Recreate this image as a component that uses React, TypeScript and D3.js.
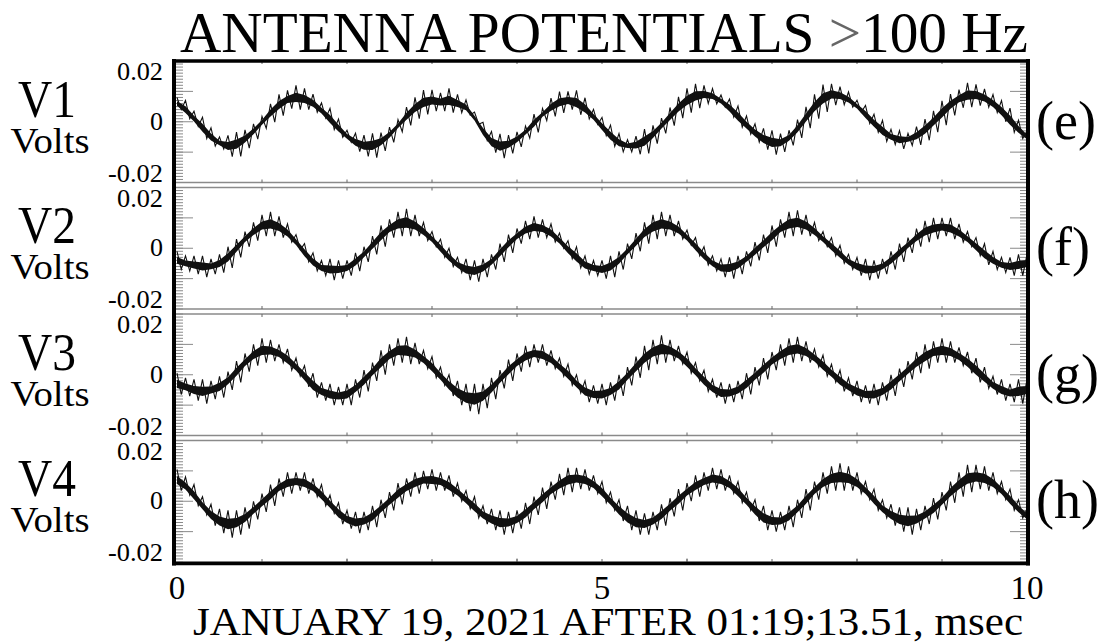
import React from "react";
import * as d3 from "d3";

// ---------------- DATA ----------------
// sample step of the decimated traces (msec); values in mV (centre of the noisy band)
const SAMPLE_STEP_MS = 0.1;
const PANEL_NAMES = ["V1", "V2", "V3", "V4"];
const PANEL_TAGS = ["(e)", "(f)", "(g)", "(h)"];
const Y_TICK_LABELS = ["0.02", "0", "-0.02"];
const Y_TICK_VALUES = [0.02, 0, -0.02];
const X_TICK_LABELS = ["0", "5", "10"];
const X_TICK_VALUES = [0, 5, 10];
const FRAME_TICKS = [2, 4, 6, 8];
const TITLE_LEFT = "ANTENNA POTENTIALS ";
const TITLE_GT = ">";
const TITLE_RIGHT = "100 Hz";
const X_TITLE = "JANUARY 19, 2021 AFTER 01:19;13.51, msec";

const v1Center = [
  6, 4, 1, -2, -5, -7, -8, -7.4, -5.7, -3.2,
  -0.2, 2.9, 5.5, 7.3, 8, 7.5, 6.1, 3.7, 0.9, -2.1,
  -4.8, -6.8, -7.9, -7.8, -6.6, -4.3, -1.3, 1.8, 4.5, 6.4,
  7, 6.5, 7, 6, 4.7, 1.2, -3.2, -6.7, -8, -7.4,
  -5.8, -3.4, -0.5, 2.4, 4.8, 6.4, 7, 6.3, 4.4, 1.6,
  -1.6, -4.6, -6.9, -7.9, -7.7, -6.4, -4.2, -1.3, 1.7, 4.7,
  7, 8.5, 9, 8.4, 6.8, 4.5, 1.7, -1.1, -3.7, -5.7,
  -6.8, -6.9, -5.3, -2.3, 1.4, 5, 7.7, 9, 8.6, 7.3,
  5.1, 2.4, -0.5, -3, -5, -5.9, -5.8, -4.6, -2.6, 0.1,
  2.9, 5.6, 7.6, 8.8, 8.8, 7.8, 6, 3.5, 0.5, -2.5,
  -5,
];
const v1Spread = [
  2, 3, 2.5, 3.5, 3, 2, 3.5, 4, 3, 2.5,
  2, 3, 3.5, 3, 4, 3.5, 3, 2.5, 3.5, 3,
  2, 3, 3.5, 4, 3, 2.5, 2, 3, 3.5, 4,
  3.5, 3, 4, 3, 2.5, 2, 3, 3.5, 4, 3,
  2.5, 2, 3, 2, 3, 3.5, 3, 4, 3.5, 2.5,
  3, 3.5, 3, 2, 3, 4, 3, 2.5, 3, 3.5,
  4, 4, 3, 2.5, 2, 3, 3.5, 3, 3, 3.5,
  4, 3, 2.5, 3, 3.5, 4, 4.5, 3.5, 3, 2.5,
  2, 3, 3, 3.5, 2.5, 3, 2, 3, 3.5, 3.5,
  4, 3.5, 3, 4, 3.5, 3, 3, 3.5, 4, 3,
  2,
];

const v2Center = [
  -4, -5, -5.5, -6, -6, -5, -3, 0, 3, 5.5,
  7.5, 8, 7, 5, 2, -1.5, -4.5, -6.5, -7, -7,
  -6.5, -4.5, -2, 1, 4, 6.5, 8, 8.5, 7.5, 5.5,
  3, 0, -3, -5.5, -7, -7.5, -6.5, -4.5, -1.5, 1.5,
  4, 6, 7, 6.5, 5, 2.5, -0.5, -3, -5.5, -6.5,
  -7, -6, -4, -1, 2, 5, 7, 8, 7.5, 6,
  3.5, 0.5, -2.5, -5, -6.5, -6.5, -5.5, -3.5, -1, 1.5,
  4, 6.5, 8, 8.5, 7.5, 5.5, 3, 0.5, -2, -4.5,
  -6, -7, -7, -6, -4, -1.5, 1, 3.5, 5.5, 6.5,
  7, 6.5, 5, 3, 0.5, -2, -4, -5.5, -6, -5.5,
  -5,
];
const v2Spread = [
  3, 2.5, 3, 3.5, 2.5, 3, 3.5, 3, 2.5, 3,
  3.5, 4, 3.5, 3, 2.5, 3, 3, 2.5, 3.5, 3,
  2.5, 3, 2.5, 3, 3.5, 3, 4, 4.5, 3.5, 3,
  2.5, 3, 3, 2.5, 3.5, 3.5, 3, 2.5, 3, 3,
  2.5, 3, 3.5, 3, 3, 2.5, 3, 3.5, 3, 2.5,
  3, 3.5, 3, 2.5, 3, 3.5, 4, 4, 3.5, 3,
  2.5, 3, 3, 2.5, 3, 3.5, 3, 2.5, 3, 3,
  3.5, 3, 4, 4, 3.5, 3, 2.5, 3, 3, 2.5,
  3, 3.5, 3, 2.5, 3, 3, 2.5, 3, 3.5, 3.5,
  3, 3.5, 3, 2.5, 3, 3.5, 3, 2.5, 3, 3.5,
  3,
];

const v3Center = [
  -3, -4, -5, -5.5, -5, -4, -2, 1, 4, 6.5,
  8, 8, 7, 5, 2.5, -0.5, -3.5, -5.5, -6.5, -7,
  -6.5, -4.5, -2, 1, 4, 6.5, 8, 8, 7, 5,
  2.5, -0.5, -3.5, -6, -7.5, -8, -7, -4.5, -1.5, 1.5,
  4, 6, 7, 6.5, 5, 2.5, 0, -3, -5.5, -6.5,
  -6.5, -5.5, -3.5, -0.5, 2.5, 5.5, 7.5, 8.5, 8, 6.5,
  4, 1, -2, -4.5, -6, -6, -5, -3, -0.5, 2,
  4.5, 6.5, 8, 8.5, 7.5, 5.5, 3, 0.5, -2, -4,
  -5.5, -6.5, -6.5, -5.5, -3.5, -1, 1.5, 4, 6, 7.5,
  8, 7.5, 6, 4, 1.5, -1, -3.5, -5, -6, -5.5,
  -5,
];
const v3Spread = [
  3.5, 3, 3.5, 4, 3, 3.5, 3, 3.5, 3, 3.5,
  4, 3.5, 3, 3.5, 3, 3.5, 4, 3, 3.5, 3,
  3.5, 3, 3.5, 3, 4, 3.5, 4, 4.5, 3.5, 3,
  3.5, 3, 3.5, 4, 4.5, 5, 4, 3.5, 3, 3.5,
  3, 3.5, 3, 3.5, 3, 3, 3.5, 3, 3.5, 3,
  3.5, 3, 3.5, 3, 3.5, 4, 4, 4.5, 3.5, 3,
  3.5, 3, 3.5, 3, 3.5, 3, 3, 3.5, 3, 3.5,
  3, 3.5, 4, 4, 3.5, 3, 3.5, 3, 3.5, 3,
  3.5, 3, 3.5, 3, 3.5, 3, 3, 3.5, 4, 3.5,
  4, 3.5, 3, 3.5, 4, 3.5, 3, 3.5, 3, 4,
  3.5,
];

const v4Center = [
  7, 5, 2, -1.5, -4.5, -6.5, -7.5, -7, -5.5, -3,
  -0.5, 2, 4.5, 6, 6.5, 6, 4.5, 2, -1, -4,
  -6, -7, -6.5, -5, -2.5, 0, 2.5, 4.5, 6, 7,
  7, 6.5, 5, 3, 0.5, -2, -4.5, -6, -7, -7,
  -6, -4, -1.5, 1, 3.5, 5.5, 7, 7.5, 7, 5.5,
  3, 0, -3, -5.5, -7, -7.5, -6.5, -4.5, -2, 0.5,
  3, 5, 6.5, 7.5, 7, 5.5, 3, 0, -3, -5.5,
  -6.5, -6.5, -5, -2.5, 0.5, 3.5, 6, 7.5, 8, 7.5,
  6, 3.5, 0.5, -2.5, -4.5, -6, -6.5, -6, -4.5, -2.5,
  0, 3, 5.5, 7.5, 8, 7.5, 6, 3.5, 0.5, -2.5,
  -5,
];
const v4Spread = [
  3.5, 3, 3.5, 3, 3.5, 4, 4.5, 4, 3.5, 3,
  3, 3.5, 3, 3.5, 3, 3.5, 3, 3.5, 3, 3.5,
  3, 3.5, 3, 3.5, 3, 3, 3.5, 3, 3.5, 3,
  3.5, 3, 3.5, 3, 3, 3.5, 3, 3.5, 4, 3.5,
  3, 3.5, 3, 3.5, 3, 3.5, 4, 3.5, 3.5, 3,
  3.5, 3, 3.5, 4, 4, 3.5, 3, 3.5, 3, 3.5,
  3, 3.5, 3, 3.5, 3.5, 3, 3.5, 3, 3.5, 4,
  3.5, 3, 3.5, 3, 3.5, 3, 3.5, 4, 4.5, 4,
  3.5, 3, 3.5, 3, 3.5, 4, 4.5, 3.5, 3, 3.5,
  3, 3.5, 4, 4.5, 4, 4, 3.5, 3, 3.5, 3,
  2.5,
];

const CENTERS = [v1Center, v2Center, v3Center, v4Center];
const SPREADS = [v1Spread, v2Spread, v3Spread, v4Spread];

// ---------------- LAYOUT ----------------
const W = 1107;
const H = 644;
const X0 = 177;
const X1 = 1027;
const FRAME_L = 174;
const FRAME_R = 1028;
const FRAME_T = 61;
const FRAME_B = 563.5;
const PANEL_TOP0 = 61;
const PANEL_STEP = 126.5;
const PANEL_H = 121.5;
const SERIF = "Liberation Serif, Times New Roman, Times, DejaVu Serif, serif";
const GRAY = "#8a8a8a";
const serif = (size: number) => ({ fontFamily: SERIF, fontSize: `${size}px` });
const Y_LABEL_WIDTHS = [46, 13, 55];

function Panel({ k }: { k: number }) {
  const top = PANEL_TOP0 + k * PANEL_STEP;
  const bottom = top + PANEL_H;
  const mid = (top + bottom) / 2;
  const x = d3.scaleLinear().domain([0, 10]).range([X0, X1]);
  const y = d3.scaleLinear().domain([-0.02, 0.02]).range([bottom, top]);
  const c = CENTERS[k];
  const s = SPREADS[k];
  const pts: [number, number][] = [];
  c.forEach((v, i) => {
    const t = i * SAMPLE_STEP_MS;
    pts.push([t, (v + s[i]) / 1000]);
    pts.push([t + SAMPLE_STEP_MS / 2, (v - s[i]) / 1000]);
  });
  const line = d3
    .line<[number, number]>()
    .x((d) => x(d[0]))
    .y((d) => y(d[1]));
  const band = d3
    .area<number>()
    .x((_, i) => x(i * SAMPLE_STEP_MS))
    .y0((d, i) => y((d - s[i] * 0.38) / 1000))
    .y1((d, i) => y((d + s[i] * 0.38) / 1000));
  const minor = y.ticks(40);
  const major = [-0.01, 0, 0.01];
  const xt = x.ticks(10);
  const clipId = `clip${k}`;
  return (
    <g>
      <defs>
        <clipPath id={clipId}>
          <rect x={X0 - 2} y={top} width={X1 - X0 + 2} height={PANEL_H} />
        </clipPath>
      </defs>
      {/* panel horizontal axis lines */}
      <line x1={FRAME_L} x2={FRAME_R} y1={top} y2={top} stroke={GRAY} strokeWidth={1.5} />
      <line x1={FRAME_L} x2={FRAME_R} y1={bottom} y2={bottom} stroke={GRAY} strokeWidth={1.5} />
      {/* x ticks on the panel axis lines */}
      {xt.slice(1, -1).map((t) => (
        <g key={`xt${t}`}>
          <line x1={x(t)} x2={x(t)} y1={top} y2={top + 3} stroke="#666" strokeWidth={1} />
          <line x1={x(t)} x2={x(t)} y1={bottom} y2={bottom - 3} stroke="#666" strokeWidth={1} />
        </g>
      ))}
      {/* y ticks, left and right */}
      {minor.map((v) => (
        <g key={`mt${v}`}>
          <line x1={FRAME_L + 2} x2={FRAME_L + 9} y1={y(v)} y2={y(v)} stroke={GRAY} strokeWidth={1} />
          <line x1={FRAME_R - 2} x2={FRAME_R - 8} y1={y(v)} y2={y(v)} stroke={GRAY} strokeWidth={1} />
        </g>
      ))}
      {major.map((v) => (
        <g key={`Mt${v}`}>
          <line x1={FRAME_L + 2} x2={FRAME_L + 19} y1={y(v)} y2={y(v)} stroke={GRAY} strokeWidth={1} />
          <line x1={FRAME_R - 2} x2={FRAME_R - 18} y1={y(v)} y2={y(v)} stroke={GRAY} strokeWidth={1} />
        </g>
      ))}
      {/* trace */}
      <g clipPath={`url(#${clipId})`}>
        <path d={band(c) || ""} fill="#111" stroke="none" />
        <path d={line(pts) || ""} fill="none" stroke="#111" strokeWidth={1.1} />
      </g>
      {/* y tick labels */}
      {Y_TICK_VALUES.map((v, i) => {
        const base = v > 0 ? top + 19 : v < 0 ? bottom - 1 : y(v) + 8;
        return (
          <text
            key={`yl${i}`}
            x={163}
            y={base}
            textAnchor="end"
            style={serif(25)}
            textLength={Y_LABEL_WIDTHS[i]}
            lengthAdjust="spacingAndGlyphs"
            fill="#000"
          >
            {Y_TICK_LABELS[i]}
          </text>
        );
      })}
      {/* left name */}
      <text x={47} y={mid - 5} textAnchor="middle" style={serif(52)} textLength={58} lengthAdjust="spacingAndGlyphs">
        {PANEL_NAMES[k]}
      </text>
      <text x={50} y={mid + 31} textAnchor="middle" style={serif(35)} textLength={79} lengthAdjust="spacingAndGlyphs">
        Volts
      </text>
      {/* right tag */}
      <text x={1036} y={mid + 17} style={serif(54)}>
        {PANEL_TAGS[k]}
      </text>
    </g>
  );
}

export default function App() {
  const x = d3.scaleLinear().domain([0, 10]).range([X0, X1]);
  return (
    <svg
      width={W}
      height={H}
      viewBox={`0 0 ${W} ${H}`}
      style={{ position: "absolute", left: 0, top: 0, background: "#fff" }}
    >
      <rect x={0} y={0} width={W} height={H} fill="#fff" />
      <text x={180} y={52} style={serif(56)} textLength={848} lengthAdjust="spacingAndGlyphs">
        {TITLE_LEFT}
        <tspan fill="#666">{TITLE_GT}</tspan>
        {TITLE_RIGHT}
      </text>
      {PANEL_NAMES.map((_, k) => (
        <Panel key={k} k={k} />
      ))}
      {/* bottom ticks */}
      {FRAME_TICKS.map((t) => (
        <line key={`bt${t}`} x1={x(t)} x2={x(t)} y1={FRAME_B} y2={FRAME_B - 5} stroke="#666" strokeWidth={1} />
      ))}
      {/* frame */}
      <line x1={FRAME_L} x2={FRAME_L} y1={FRAME_T - 2} y2={FRAME_B + 2} stroke="#000" strokeWidth={4} />
      <line x1={FRAME_R} x2={FRAME_R} y1={FRAME_T - 2} y2={FRAME_B + 2} stroke="#000" strokeWidth={4} />
      <line x1={FRAME_L - 2} x2={FRAME_R + 2} y1={FRAME_T} y2={FRAME_T} stroke="#000" strokeWidth={3.5} />
      <line x1={FRAME_L - 2} x2={FRAME_R + 2} y1={FRAME_B} y2={FRAME_B} stroke="#000" strokeWidth={3.5} />
      {/* x tick labels */}
      {X_TICK_VALUES.map((t, i) => (
        <text key={`xl${t}`} x={x(t)} y={599} textAnchor="middle" style={serif(33)}>
          {X_TICK_LABELS[i]}
        </text>
      ))}
      <text x={193} y={635} style={serif(40)} textLength={830} lengthAdjust="spacingAndGlyphs">
        {X_TITLE}
      </text>
    </svg>
  );
}
